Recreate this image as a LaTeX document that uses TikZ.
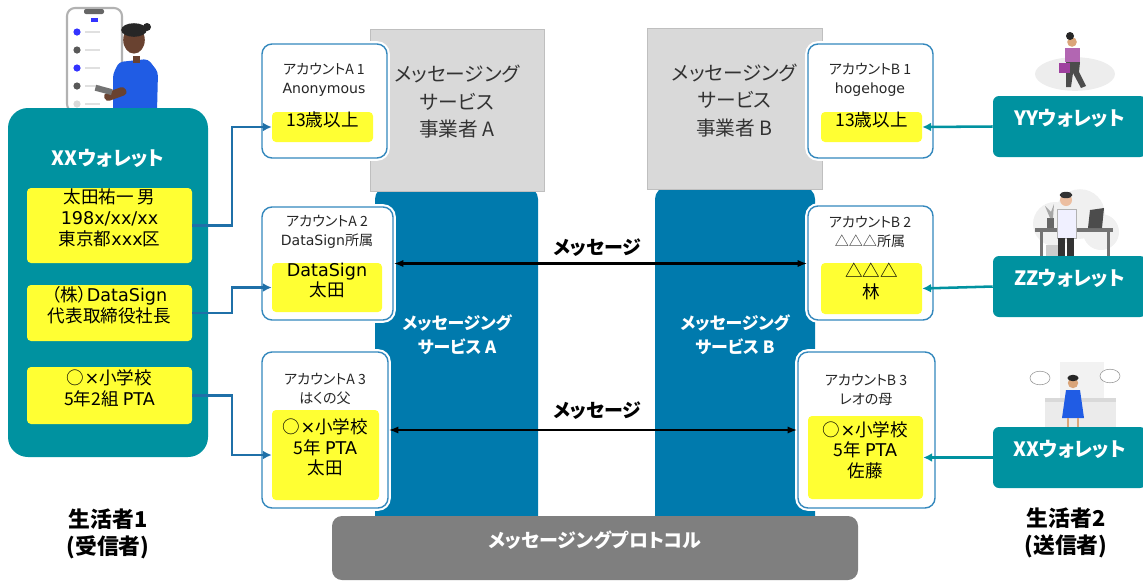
\documentclass[tikz,border=0pt]{standalone}
\usepackage{fontspec}
\setmainfont{Noto Sans CJK JP}[RawFeature=+palt]
\newfontfamily\latinfont{DejaVu Sans}
\newcommand{\en}[1]{{\latinfont #1}}
\usetikzlibrary{positioning,arrows.meta,fit}
\definecolor{walletteal}{RGB}{0,146,160}
\definecolor{svcblue}{RGB}{0,122,173}
\definecolor{acctblue}{RGB}{52,136,189}
\definecolor{linkblue}{RGB}{31,112,168}
\definecolor{itemyellow}{RGB}{255,255,51}
\definecolor{opgray}{RGB}{217,217,217}
\definecolor{protogray}{RGB}{127,127,127}
\definecolor{skin}{RGB}{105,66,48}
\definecolor{skinlight}{RGB}{236,190,160}
\definecolor{shirtblue}{RGB}{32,92,228}
\tikzset{
  wallet/.style={fill=walletteal, rounded corners=5mm, inner sep=0pt},
  walletname/.style={text=white, font=\fontsize{14}{17}\selectfont\bfseries},
  walletitem/.style={fill=itemyellow, rounded corners=1mm, inner sep=0pt, align=center,
    font=\fontsize{12.5}{15}\selectfont},
  sidewallet/.style={fill=walletteal, rounded corners=1.5mm, inner sep=0pt, text=white,
    font=\fontsize{14}{17}\selectfont\bfseries},
  acctbox/.style={draw=acctblue, fill=white, line width=1pt, rounded corners=2.5mm, inner sep=0pt,
    preaction={draw=white, line width=4pt}},
  acctlabel/.style={font=\fontsize{10}{13.5}\selectfont, text=black!85, align=center},
  acctitem/.style={fill=itemyellow, rounded corners=1mm, inner sep=0pt, align=center,
    font=\fontsize{12.5}{14.5}\selectfont},
  opbox/.style={draw=black!25, fill=opgray, inner sep=0pt, align=center,
    font=\fontsize{14}{19.5}\selectfont, text=black!80},
  svcbox/.style={fill=svcblue, rounded corners=3mm, inner sep=0pt},
  svclabel/.style={text=white, align=center, font=\fontsize{12}{17}\selectfont\bfseries},
  protobar/.style={fill=protogray, rounded corners=2.5mm, inner sep=0pt, text=white,
    font=\fontsize{13.5}{18}\selectfont\bfseries},
  msglabel/.style={font=\fontsize{13.5}{16}\selectfont\bfseries},
  personlabel/.style={align=center, font=\fontsize{15.5}{19}\selectfont\bfseries},
  linkarrow/.style={draw=linkblue, line width=1.8pt, -{Latex[length=2.2mm,width=2.2mm]}},
  walletarrow/.style={draw=walletteal, line width=1.8pt, -{Latex[length=2.2mm,width=2.2mm]}},
  msgarrow/.style={line width=1.8pt, {Latex[length=2.4mm]}-{Latex[length=2.4mm]}},
}

\begin{document}
\begin{tikzpicture}[x=0.025cm, y=-0.025cm]
  \useasboundingbox (0,0) rectangle (1143,581);
  % 生活者1：スマホと人物
  \draw[draw=black!30, fill=white, line width=1.5pt, rounded corners=2mm] (67,8) rectangle (122,112);
  \fill[black!60, rounded corners=0.5mm] (84,9) rectangle (104,14);
  \fill[blue!80] (91,18) rectangle (98,22);
  \foreach \yy/\c in {32/blue!80, 50/black!65, 68/blue!80, 86/black!65, 104/black!15} {
    \fill[\c] (77,\yy) circle (0.09cm);
    \fill[black!12] (85,\yy-1) rectangle (100,\yy+1);
  }
  \fill[shirtblue, rounded corners=1mm] (119,62) -- (148,59) -- (158,72) -- (157,112) -- (113,112) -- (113,74) -- cycle;
  \fill[skin] (133,56) rectangle (140,63);
  \fill[skin] (134,40) ellipse (0.27cm and 0.34cm);
  \fill[black!85] (134,30) ellipse (0.32cm and 0.17cm);
  \fill[black!85] (147,27) circle (0.1cm);
  \fill[skin, rounded corners=1mm] (103,94) -- (124,86) -- (128,94) -- (106,102) -- cycle;
  \fill[black!55, rotate around={-15:(100,90)}] (95,86) rectangle (112,92);

  % 生活者2：人物
  \fill[black!7] (1075,74) ellipse (1cm and 0.42cm);
  \fill[skinlight!60!brown] (1072,42) circle (0.12cm);
  \fill[black!85] (1070,36) circle (0.1cm);
  \fill[violet!60] (1065,48) rectangle (1080,62);
  \fill[black!70] (1066,62) -- (1080,62) -- (1079,72) -- (1086,86) -- (1081,88) -- (1073,73) -- (1071,87) -- (1066,87) -- cycle;
  \fill[violet!75] (1059,63) rectangle (1070,73);
  \fill[black!6] (1055,224) circle (0.55cm);
  \fill[black!6] (1080,214) circle (0.62cm);
  \fill[black!6] (1101,232) circle (0.45cm);
  \fill[black!55] (1035,228) rectangle (1113,232);
  \fill[black!55] (1040,232) rectangle (1043,265);
  \fill[black!55] (1107,232) rectangle (1110,265);
  \fill[black!20] (1046,245) rectangle (1058,265);
  \fill[black!70] (1090,210) -- (1104,208) -- (1102,228) -- (1088,228) -- cycle;
  \fill[black!60] (1047,218) rectangle (1054,228);
  \fill[black!35] (1050,218) -- (1045,206) -- (1051,212) -- (1054,204) -- (1053,218) -- cycle;
  \fill[skinlight] (1066,200) circle (0.15cm);
  \fill[black!80] (1066,195) ellipse (0.16cm and 0.08cm);
  \draw[black!30, fill=blue!6] (1057,209) rectangle (1076,238);
  \fill[black!80] (1058,238) rectangle (1065,262);
  \fill[black!80] (1067,238) rectangle (1074,262);
  \fill[black!5] (1060,362) rectangle (1104,400);
  \draw[black!40, fill=white] (1040,378) ellipse (0.25cm and 0.17cm);
  \draw[black!40, fill=white] (1110,376) ellipse (0.25cm and 0.17cm);
  \fill[black!8] (1045,400) rectangle (1116,430);
  \fill[black!15] (1045,398) rectangle (1116,402);
  \fill[skinlight!60!brown] (1073,383) circle (0.13cm);
  \fill[black!85] (1073,378) ellipse (0.14cm and 0.08cm);
  \fill[shirtblue] (1066,390) -- (1080,390) -- (1084,418) -- (1062,418) -- cycle;
  \fill[skinlight!60!brown] (1067,418) rectangle (1069,432);
  \fill[skinlight!60!brown] (1077,418) rectangle (1079,432);

  % XXウォレット（生活者1）
  \node[wallet, fit={(8,108) (208,457)}] (wallet1) {};
  \node[walletname] at (108,158) {XXウォレット};
  \node[walletitem, fit={(27,188) (192,263)}] (w1) {太田祐一 男\\\en{198x/xx/xx}\\東京都\en{xxx}区};
  \node[walletitem, fit={(27,285) (192,341)}] (w2) {（株）\en{DataSign}\\代表取締役社長};
  \node[walletitem, fit={(27,367) (192,424)}] (w3) {○\en{×}小学校\\5年2組 \en{PTA}};
  \node[personlabel] (p1) at (108,534) {生活者1\\(受信者)};

  % メッセージングサービス
  \node[svcbox, fit={(375,187) (538,545)}] (svcA) {};
  \node[svcbox, fit={(655,187) (815,545)}] (svcB) {};
  \node[svclabel] at (457,335) {メッセージング\\サービス A};
  \node[svclabel] at (735,335) {メッセージング\\サービス B};
  \node[opbox, fit={(370,29) (544,191)}] (opA) {メッセージング\\サービス\\事業者 A};
  \node[opbox, fit={(647,28) (822,189)}] (opB) {メッセージング\\サービス\\事業者 B};

  % アカウント A
  \node[acctbox, fit={(262,44) (387,158)}] (a1) {};
  \node[acctlabel] at (324,79.5) {アカウントA 1\\\en{Anonymous}};
  \node[acctitem, fit={(272,112) (373,142)}] (a1y) {13歳以上};
  \node[acctbox, fit={(262,207) (393,320)}] (a2) {};
  \node[acctlabel] at (327,232) {アカウントA 2\\\en{DataSign}所属};
  \node[acctitem, fit={(272,263) (382,312)}] (a2y) {\en{DataSign}\\太田};
  \node[acctbox, fit={(262,352) (388,508)}] (a3) {};
  \node[acctlabel] at (325,388.5) {アカウントA 3\\はくの父};
  \node[acctitem, fit={(272,410) (379,500)}] (a3y) {○\en{×}小学校\\5年 \en{PTA}\\太田};

  % アカウント B
  \node[acctbox, fit={(808,44) (933,158)}] (b1) {};
  \node[acctlabel] at (870,79.5) {アカウントB 1\\\en{hogehoge}};
  \node[acctitem, fit={(821,112) (922,142)}] (b1y) {13歳以上};
  \node[acctbox, fit={(808,206) (933,320)}] (b2) {};
  \node[acctlabel] at (870,232) {アカウントB 2\\△△△所属};
  \node[acctitem, fit={(821,263) (922,314)}] (b2y) {△△△\\林};
  \node[acctbox, fit={(798,352) (935,508)}] (b3) {};
  \node[acctlabel] at (866,389.5) {アカウントB 3\\レオの母};
  \node[acctitem, fit={(808,416) (923,499)}] (b3y) {○\en{×}小学校\\5年 \en{PTA}\\佐藤};

  % プロトコル
  \node[protobar, fit={(332,516) (858,580)}] (proto) {メッセージングプロトコル};

  % 生活者2のウォレット
  \node[sidewallet, fit={(993,96) (1146,157)}] (yy) {YYウォレット};
  \node[sidewallet, fit={(993,256) (1146,317)}] (zz) {ZZウォレット};
  \node[sidewallet, fit={(993,427) (1146,488)}] (xx) {XXウォレット};
  \node[personlabel] (p2) at (1066,533) {生活者2\\(送信者)};

  % 接続
  \coordinate (jx) at (232,0);
  \draw[linkarrow] (w1.east) -- (w1.east -| jx) |- (a1y.west);
  \draw[linkarrow] (w2.east) -- (w2.east -| jx) |- (a2y.west);
  \draw[linkarrow] (w3.east) -- (w3.east -| jx) |- (a3y.west);
  \draw[walletarrow] (yy.west) -- (b1y.east);
  \draw[walletarrow] (zz.west) -- (b2y.east);
  \draw[walletarrow] (xx.west |- b3y.east) -- (b3y.east);
  \draw[msgarrow] (a2.east) -- (a2.east -| b2.west);
  \draw[msgarrow] (a3.east) -- (a3.east -| b3.west);
  \node[msglabel] at (597,248) {メッセージ};
  \node[msglabel] at (597,411) {メッセージ};
\end{tikzpicture}
\end{document}
